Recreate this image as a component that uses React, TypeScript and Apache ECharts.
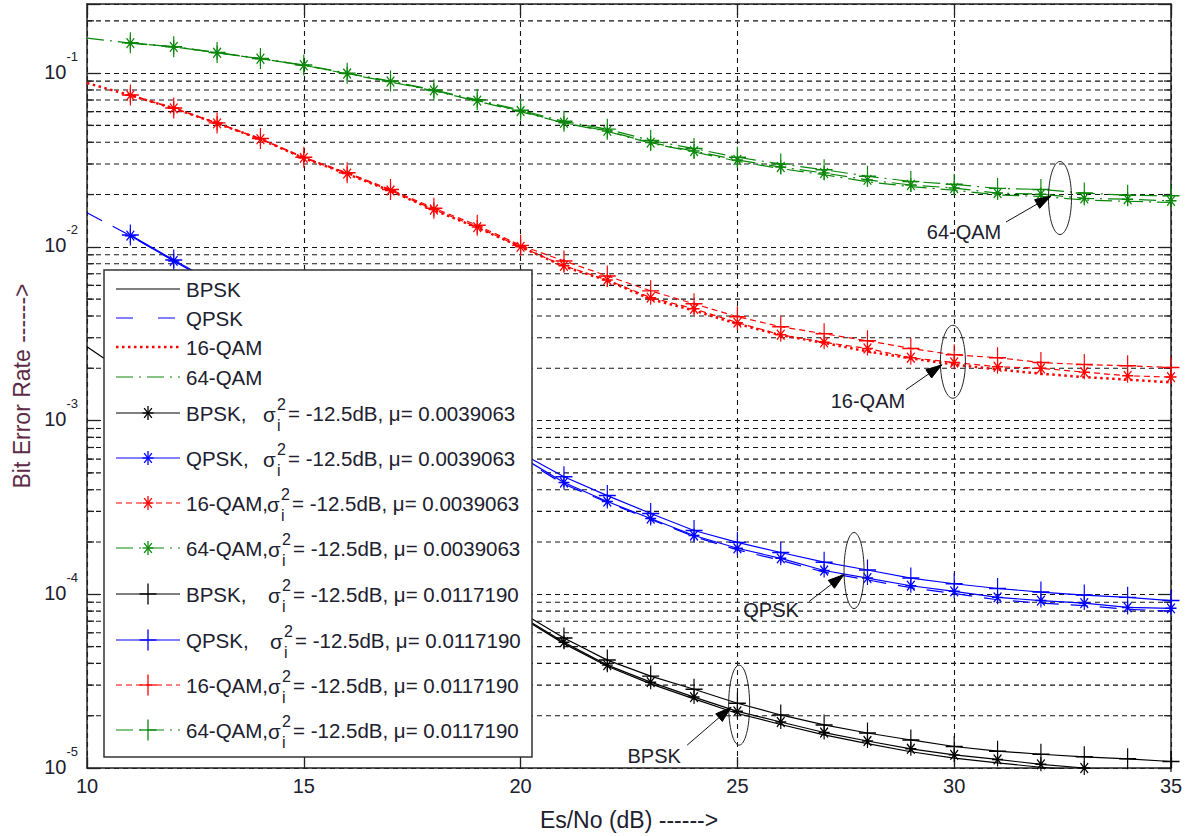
import React, { useEffect, useRef } from 'react';
import * as echarts from 'echarts';

const FONT = '"Liberation Sans", Arial, Helvetica, sans-serif';
const INK = '#20202e';
const YNAME_INK = '#5b2b45';
const GRID_INK = '#151515';

// Es/No in dB: analytical curves start at 10 dB, simulated ones at 11 dB
const esNoTheory = [10, 11, 12, 13, 14, 15, 16, 17, 18, 19, 20, 21, 22, 23, 24, 25, 26, 27, 28, 29, 30, 31, 32, 33, 34, 35];
const esNoSim = [11, 12, 13, 14, 15, 16, 17, 18, 19, 20, 21, 22, 23, 24, 25, 26, 27, 28, 29, 30, 31, 32, 33, 34, 35];

// Bit error rate, BPSK
const bpskTheory = [2.66e-3, 1.8e-3, 1.23e-3, 8.4e-4, 5.8e-4, 4.0e-4, 2.8e-4, 1.97e-4, 1.4e-4, 1.01e-4, 7.4e-5, 5.2e-5, 3.85e-5, 3.05e-5, 2.5e-5, 2.06e-5, 1.78e-5, 1.55e-5, 1.38e-5, 1.24e-5, 1.14e-5, 1.07e-5, 1.01e-5, 9.6e-6, 9.2e-6, 8.9e-6];
const bpskMuA = [1.81e-3, 1.24e-3, 8.5e-4, 5.85e-4, 4.05e-4, 2.83e-4, 2.0e-4, 1.42e-4, 1.03e-4, 7.5e-5, 5.3e-5, 3.91e-5, 3.12e-5, 2.56e-5, 2.12e-5, 1.84e-5, 1.6e-5, 1.43e-5, 1.29e-5, 1.19e-5, 1.12e-5, 1.05e-5, 1.0e-5, 9.6e-6, 9.3e-6];
const bpskMuB = [1.84e-3, 1.27e-3, 8.7e-4, 6.0e-4, 4.17e-4, 2.93e-4, 2.08e-4, 1.49e-4, 1.08e-4, 7.9e-5, 5.6e-5, 4.18e-5, 3.38e-5, 2.84e-5, 2.36e-5, 2.02e-5, 1.77e-5, 1.59e-5, 1.45e-5, 1.33e-5, 1.25e-5, 1.2e-5, 1.16e-5, 1.13e-5, 1.09e-5];

// Bit error rate, QPSK
const qpskTheory = [0.0157, 0.0116, 0.0083, 0.006, 0.00435, 0.00315, 0.00228, 0.00166, 1.2e-3, 8.6e-4, 6.1e-4, 4.3e-4, 3.38e-4, 2.7e-4, 2.15e-4, 1.8e-4, 1.57e-4, 1.34e-4, 1.21e-4, 1.09e-4, 1.01e-4, 9.3e-5, 8.9e-5, 8.6e-5, 8.2e-5, 8.0e-5];
const qpskMuA = [0.0116, 0.0083, 0.006, 0.00437, 0.00317, 0.0023, 0.00168, 1.22e-3, 8.7e-4, 6.2e-4, 4.4e-4, 3.42e-4, 2.73e-4, 2.18e-4, 1.84e-4, 1.61e-4, 1.37e-4, 1.24e-4, 1.12e-4, 1.04e-4, 9.6e-5, 9.2e-5, 8.9e-5, 8.4e-5, 8.3e-5];
const qpskMuB = [0.0117, 0.0084, 0.0061, 0.00445, 0.00325, 0.00237, 0.00174, 1.27e-3, 9.1e-4, 6.5e-4, 4.75e-4, 3.7e-4, 2.92e-4, 2.33e-4, 1.99e-4, 1.74e-4, 1.53e-4, 1.38e-4, 1.24e-4, 1.15e-4, 1.08e-4, 1.03e-4, 9.9e-5, 9.6e-5, 9.2e-5];

// Bit error rate, 16-QAM
const qam16Theory = [0.0877, 0.0745, 0.0627, 0.0514, 0.0417, 0.0324, 0.0263, 0.021, 0.0163, 0.0129, 0.01, 0.0077, 0.0064, 0.005, 0.0043, 0.0036, 0.0031, 0.0028, 0.0025, 0.00228, 0.0021, 0.00197, 0.00186, 0.00178, 0.00172, 0.00166];
const qam16MuA = [0.0745, 0.0627, 0.0514, 0.0417, 0.0325, 0.0264, 0.0211, 0.0164, 0.013, 0.01, 0.00778, 0.00645, 0.0051, 0.0044, 0.00366, 0.00312, 0.00282, 0.0026, 0.0023, 0.00216, 0.00204, 0.002, 0.0019, 0.00181, 0.00178];
const qam16MuB = [0.0748, 0.063, 0.0517, 0.042, 0.0328, 0.0267, 0.0214, 0.0167, 0.0133, 0.0102, 0.0083, 0.0068, 0.00558, 0.0047, 0.00396, 0.00347, 0.00316, 0.00288, 0.0026, 0.00239, 0.0023, 0.00216, 0.0021, 0.00207, 0.00202];

// Bit error rate, 64-QAM
const qam64Theory = [0.159, 0.149, 0.1416, 0.131, 0.121, 0.111, 0.099, 0.089, 0.079, 0.069, 0.06, 0.0516, 0.0462, 0.0395, 0.0352, 0.0311, 0.0282, 0.026, 0.0237, 0.0222, 0.0212, 0.0199, 0.0195, 0.0186, 0.0183, 0.018];
const qam64MuA = [0.149, 0.1416, 0.131, 0.121, 0.111, 0.0995, 0.0895, 0.0795, 0.0695, 0.0605, 0.0518, 0.0465, 0.0398, 0.0356, 0.0316, 0.0288, 0.0266, 0.0243, 0.0227, 0.0218, 0.0204, 0.0201, 0.019, 0.0188, 0.0184];
const qam64MuB = [0.1495, 0.142, 0.1315, 0.1215, 0.1115, 0.1, 0.09, 0.08, 0.0702, 0.0612, 0.0528, 0.0476, 0.041, 0.0368, 0.0328, 0.03, 0.0278, 0.0255, 0.0238, 0.0229, 0.0217, 0.0214, 0.0204, 0.0198, 0.0197];

// Step sizes used by the two LMS runs
const muValues = ['0.0039063', '0.0117190'];

const BLACK = '#000000';
const BLUE = '#0000ff';
const RED = '#ff0000';
const GREEN = '#0a870a';

const DASH_QPSK = [17, 12];
const DOT_16 = [2.5, 3.5];
const DASH_16 = [6, 4];
const DASHDOT_64 = [17, 6, 2, 6];

const STAR_PATH = 'path://M5 0L5 10M0 5L10 5M1.5 1.5L8.5 8.5M1.5 8.5L8.5 1.5';
const PLUS_PATH = 'path://M5 0L5 10M0 5L10 5';
const STAR_SIZE = [11, 14];
const PLUS_SIZE = [17, 21];

type Marker = 'star' | 'plus' | null;
interface Curve {
  name: string;
  x: number[];
  y: number[];
  color: string;
  dash: 'solid' | number[];
  legendDash?: number[];
  width: number;
  marker: Marker;
  prefix?: string;
  sigmaX?: number;
  mu?: string;
}

const curves: Curve[] = [
  { name: 'BPSK', x: esNoTheory, y: bpskTheory, color: BLACK, dash: 'solid', width: 1.2, marker: null },
  { name: 'QPSK', x: esNoTheory, y: qpskTheory, color: BLUE, dash: DASH_QPSK, legendDash: [17, 25], width: 1.2, marker: null },
  { name: '16-QAM', x: esNoTheory, y: qam16Theory, color: RED, dash: DOT_16, width: 2.5, marker: null },
  { name: '64-QAM', x: esNoTheory, y: qam64Theory, color: GREEN, dash: DASHDOT_64, width: 1.2, marker: null },
  { name: 'BPSK-mu1', x: esNoSim, y: bpskMuA, color: BLACK, dash: 'solid', width: 1.2, marker: 'star', prefix: 'BPSK,', sigmaX: 263, mu: muValues[0] },
  { name: 'QPSK-mu1', x: esNoSim, y: qpskMuA, color: BLUE, dash: 'solid', width: 1.2, marker: 'star', prefix: 'QPSK,', sigmaX: 263, mu: muValues[0] },
  { name: '16-QAM-mu1', x: esNoSim, y: qam16MuA, color: RED, dash: DASH_16, width: 1.2, marker: 'star', prefix: '16-QAM,', sigmaX: 267, mu: muValues[0] },
  { name: '64-QAM-mu1', x: esNoSim, y: qam64MuA, color: GREEN, dash: DASHDOT_64, width: 1.2, marker: 'star', prefix: '64-QAM,', sigmaX: 268, mu: muValues[0] },
  { name: 'BPSK-mu2', x: esNoSim, y: bpskMuB, color: BLACK, dash: 'solid', width: 1.2, marker: 'plus', prefix: 'BPSK,', sigmaX: 268, mu: muValues[1] },
  { name: 'QPSK-mu2', x: esNoSim, y: qpskMuB, color: BLUE, dash: 'solid', width: 1.2, marker: 'plus', prefix: 'QPSK,', sigmaX: 270, mu: muValues[1] },
  { name: '16-QAM-mu2', x: esNoSim, y: qam16MuB, color: RED, dash: DASH_16, width: 1.2, marker: 'plus', prefix: '16-QAM,', sigmaX: 268, mu: muValues[1] },
  { name: '64-QAM-mu2', x: esNoSim, y: qam64MuB, color: GREEN, dash: DASHDOT_64, width: 1.2, marker: 'plus', prefix: '64-QAM,', sigmaX: 268, mu: muValues[1] },
];

// Callouts: ellipse centre in data space, other parts as pixel offsets from it
const callouts = [
  { label: '64-QAM', at: [32.44, 0.0191], rx: 11.5, ry: 36.5, tip: [-9, -2], tail: [-54, 24], text: [-96, 34] },
  { label: '16-QAM', at: [29.97, 0.00218], rx: 12.5, ry: 36.5, tip: [-11, 3], tail: [-47, 28], text: [-85, 39] },
  { label: 'QPSK', at: [27.69, 1.37e-4], rx: 10, ry: 38, tip: [-10, 4], tail: [-45, 31], text: [-83, 39] },
  { label: 'BPSK', at: [25.04, 2.3e-5], rx: 10.5, ry: 40, tip: [-8, 2], tail: [-52, 40], text: [-85, 51] },
];

// Minor log gridlines (2..9 per decade, inside the axis range)
const minorGrid: number[] = [];
for (let e = -5; e <= -1; e++) {
  for (let m = 2; m <= 9; m++) {
    const v = m * Math.pow(10, e);
    if (v <= 0.25) minorGrid.push(v);
  }
}

// Legend layout
const LEGEND_BOX = { x: 104, y: 270, w: 428, h: 487 };
const LEGEND_ROW_Y = [289, 318, 347, 377, 413, 458, 503, 548, 594, 640, 685, 730];
const LEGEND_LINE = { x1: 116, x2: 180, mark: 148, text: 186 };
const LEGEND_FONT = 20.5;

function markerSegments(kind: Marker, cx: number, cy: number): number[][] {
  if (!kind) return [];
  const [w, h] = kind === 'star' ? STAR_SIZE : PLUS_SIZE;
  const segs = [
    [cx, cy - h / 2, cx, cy + h / 2],
    [cx - w / 2, cy, cx + w / 2, cy],
  ];
  if (kind === 'star') {
    const dx = w * 0.35;
    const dy = h * 0.35;
    segs.push([cx - dx, cy - dy, cx + dx, cy + dy], [cx - dx, cy + dy, cx + dx, cy - dy]);
  }
  return segs;
}

function textEl(text: string, x: number, y: number, size: number, z: number) {
  return {
    type: 'text',
    x,
    y,
    z,
    silent: true,
    style: { text, fontSize: size, fontFamily: FONT, fill: INK, align: 'left', verticalAlign: 'middle' },
  };
}

function buildLegend() {
  const children: any[] = [];
  children.push({
    type: 'rect',
    z: 100,
    silent: true,
    shape: { x: LEGEND_BOX.x, y: LEGEND_BOX.y, width: LEGEND_BOX.w, height: LEGEND_BOX.h },
    style: { fill: '#ffffff', stroke: '#333333', lineWidth: 1.5 },
  });
  curves.forEach((c, i) => {
    const y = LEGEND_ROW_Y[i];
    const dash = c.dash === 'solid' ? null : c.legendDash || c.dash;
    children.push({
      type: 'line',
      z: 101,
      silent: true,
      shape: { x1: LEGEND_LINE.x1, y1: y, x2: LEGEND_LINE.x2, y2: y },
      style: { stroke: c.color, lineWidth: c.width, lineDash: dash },
    });
    markerSegments(c.marker, LEGEND_LINE.mark, y).forEach((s) => {
      children.push({
        type: 'line',
        z: 102,
        silent: true,
        shape: { x1: s[0], y1: s[1], x2: s[2], y2: s[3] },
        style: { stroke: c.color, lineWidth: 1.3 },
      });
    });
    if (!c.prefix) {
      children.push(textEl(c.name, LEGEND_LINE.text, y, LEGEND_FONT, 102));
    } else {
      const sx = c.sigmaX as number;
      children.push(textEl(c.prefix, LEGEND_LINE.text, y, LEGEND_FONT, 102));
      children.push(textEl('σ', sx, y + 1, LEGEND_FONT, 102));
      children.push(textEl('2', sx + 14, y - 9, 16, 102));
      children.push(textEl('i', sx + 14, y + 12, 16, 102));
      children.push(textEl('= -12.5dB, μ= ' + c.mu, sx + 25, y, LEGEND_FONT, 102));
    }
  });
  return [{ type: 'group', children }];
}

function buildOption() {
  const axisLineStyle = { color: '#222222', width: 1.5 };
  const tickStyle = { color: '#222222', width: 1.3 };
  const splitStyle = { color: GRID_INK, width: 1.1, type: [5, 4] as number[] };

  const lineSeries = curves.map((c) => ({
    type: 'line',
    name: c.name,
    data: c.y.map((v, i) => [c.x[i], v]),
    xAxisIndex: 0,
    yAxisIndex: 0,
    symbol: c.marker === 'star' ? STAR_PATH : c.marker === 'plus' ? PLUS_PATH : 'none',
    symbolSize: c.marker === 'star' ? STAR_SIZE : PLUS_SIZE,
    showSymbol: !!c.marker,
    showAllSymbol: true,
    clip: true,
    silent: true,
    z: 3,
    lineStyle: { color: c.color, width: c.width, type: c.dash },
    itemStyle: { color: c.color, borderColor: c.color, borderWidth: 1.3 },
    emphasis: { disabled: true },
  }));

  const minorSeries = {
    type: 'custom',
    name: 'minor-grid',
    coordinateSystem: 'cartesian2d',
    xAxisIndex: 0,
    yAxisIndex: 0,
    silent: true,
    z: 1,
    data: minorGrid.map((v) => [10, v]),
    encode: { x: 0, y: 1 },
    renderItem: (_p: any, api: any) => {
      const v = api.value(1);
      const a = api.coord([10, v]);
      const b = api.coord([35, v]);
      return {
        type: 'group',
        children: [
          { type: 'line', shape: { x1: a[0], y1: a[1], x2: b[0], y2: b[1] }, style: { stroke: GRID_INK, lineWidth: 1.1, lineDash: [5, 4] } },
          { type: 'line', shape: { x1: a[0], y1: a[1], x2: a[0] + 7, y2: a[1] }, style: { stroke: '#222222', lineWidth: 1.3 } },
          { type: 'line', shape: { x1: b[0] - 7, y1: b[1], x2: b[0], y2: b[1] }, style: { stroke: '#222222', lineWidth: 1.3 } },
        ],
      };
    },
  };

  const calloutSeries = {
    type: 'custom',
    name: 'callouts',
    coordinateSystem: 'cartesian2d',
    xAxisIndex: 0,
    yAxisIndex: 0,
    silent: true,
    clip: false,
    z: 6,
    data: callouts.map((c) => c.at),
    encode: { x: 0, y: 1 },
    renderItem: (p: any, api: any) => {
      const c = callouts[p.dataIndex];
      const o = api.coord([api.value(0), api.value(1)]);
      const tip = [o[0] + c.tip[0], o[1] + c.tip[1]];
      const tail = [o[0] + c.tail[0], o[1] + c.tail[1]];
      const dx = tip[0] - tail[0];
      const dy = tip[1] - tail[1];
      const len = Math.sqrt(dx * dx + dy * dy);
      const ux = dx / len;
      const uy = dy / len;
      const headLen = 16;
      const headHalf = 5;
      const bx = tip[0] - ux * headLen;
      const by = tip[1] - uy * headLen;
      return {
        type: 'group',
        children: [
          { type: 'ellipse', shape: { cx: o[0], cy: o[1], rx: c.rx, ry: c.ry }, style: { fill: 'none', stroke: '#222222', lineWidth: 1 } },
          { type: 'line', shape: { x1: tail[0], y1: tail[1], x2: bx + ux * 4, y2: by + uy * 4 }, style: { stroke: '#111111', lineWidth: 1 } },
          {
            type: 'polygon',
            shape: { points: [tip, [bx - uy * headHalf, by + ux * headHalf], [bx + uy * headHalf, by - ux * headHalf]] },
            style: { fill: '#000000', stroke: '#000000', lineWidth: 1 },
          },
          {
            type: 'text',
            x: o[0] + c.text[0],
            y: o[1] + c.text[1],
            style: { text: c.label, fontSize: 20, fontFamily: FONT, fill: INK, align: 'center', verticalAlign: 'middle' },
          },
        ],
      };
    },
  };

  return {
    animation: false,
    backgroundColor: '#ffffff',
    textStyle: { fontFamily: FONT },
    grid: { left: 87, top: 4, width: 1084, height: 764, containLabel: false },
    xAxis: [
      {
        type: 'value',
        position: 'bottom',
        min: 10,
        max: 35,
        interval: 5,
        name: 'Es/No (dB) ------>',
        nameLocation: 'middle',
        nameGap: 40,
        nameTextStyle: { fontSize: 23, color: INK, fontFamily: FONT },
        axisLine: { show: true, onZero: false, lineStyle: axisLineStyle },
        axisTick: { show: true, inside: true, length: 11, lineStyle: tickStyle },
        axisLabel: { fontSize: 20, color: INK, margin: 8, fontFamily: FONT },
        splitLine: { show: true, lineStyle: splitStyle },
      },
      {
        type: 'value',
        position: 'top',
        min: 10,
        max: 35,
        interval: 5,
        axisLine: { show: true, onZero: false, lineStyle: axisLineStyle },
        axisTick: { show: true, inside: true, length: 11, lineStyle: tickStyle },
        axisLabel: { show: false },
        splitLine: { show: false },
      },
    ],
    yAxis: [
      {
        type: 'log',
        logBase: 10,
        position: 'left',
        min: 1e-5,
        max: 0.25,
        name: 'Bit Error Rate ------>',
        nameLocation: 'middle',
        nameRotate: 90,
        nameGap: 50,
        nameTextStyle: { fontSize: 23, color: YNAME_INK, fontFamily: FONT },
        axisLine: { show: true, onZero: false, lineStyle: axisLineStyle },
        axisTick: { show: true, inside: true, length: 13, lineStyle: tickStyle },
        axisLabel: {
          margin: 9,
          padding: [0, 0, 15, 0],
          formatter: (v: number) => {
            const e = Math.log10(v);
            const r = Math.round(e);
            if (Math.abs(e - r) > 1e-6) return '';
            return '{b|10}{s|' + r + '}';
          },
          rich: {
            b: { fontSize: 20, lineHeight: 32, verticalAlign: 'bottom', color: INK, fontFamily: FONT },
            s: { fontSize: 13, lineHeight: 13, verticalAlign: 'top', color: INK, fontFamily: FONT },
          },
        },
        splitLine: { show: true, lineStyle: splitStyle },
      },
      {
        type: 'log',
        logBase: 10,
        position: 'right',
        min: 1e-5,
        max: 0.25,
        axisLine: { show: true, onZero: false, lineStyle: axisLineStyle },
        axisTick: { show: true, inside: true, length: 13, lineStyle: tickStyle },
        axisLabel: { show: false },
        splitLine: { show: false },
      },
    ],
    series: [minorSeries, ...lineSeries, calloutSeries],
    graphic: buildLegend(),
  };
}

export default function App() {
  const ref = useRef<HTMLDivElement>(null);
  useEffect(() => {
    const el = ref.current;
    if (!el) return;
    const chart = echarts.init(el, null, { renderer: 'svg' });
    chart.setOption(buildOption() as any);
    return () => chart.dispose();
  }, []);
  return (
    <div
      ref={ref}
      style={{ position: 'absolute', left: 0, top: 0, width: 1186, height: 836, background: '#ffffff' }}
    />
  );
}
